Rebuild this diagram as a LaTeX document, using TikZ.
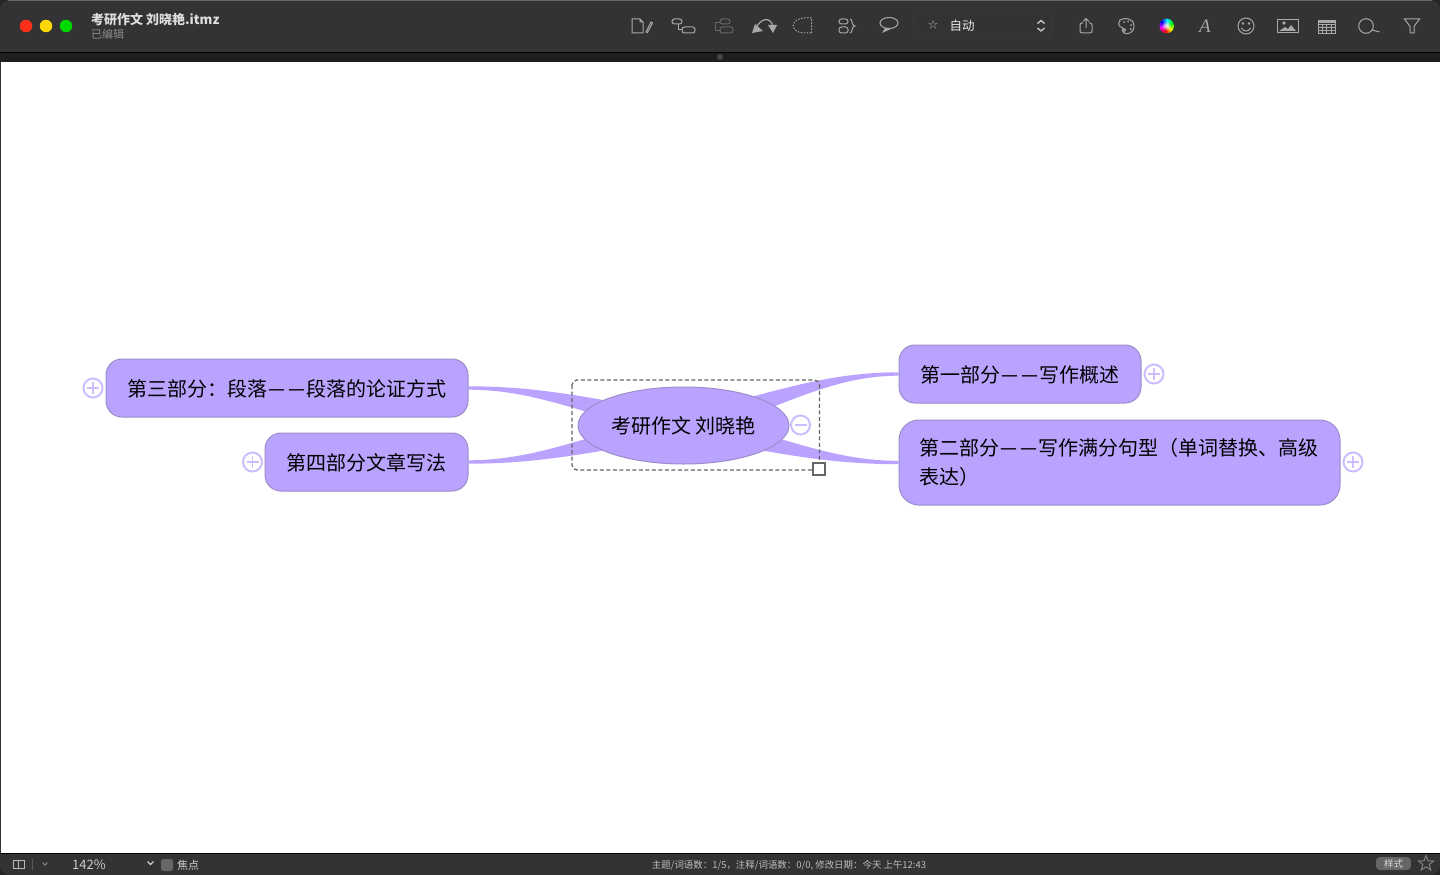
\documentclass[tikz,border=0pt]{standalone}
\usepackage{fontspec}
\setmainfont{Noto Sans CJK SC}
\newfontfamily\serifA{Liberation Serif}
\usetikzlibrary{shapes.geometric,calc,arrows.meta}
\definecolor{barC}{HTML}{333333}
\definecolor{stripC}{HTML}{1F1F1F}
\definecolor{iconC}{HTML}{A8A8A8}
\definecolor{dimC}{HTML}{666666}
\definecolor{topicC}{HTML}{B9A3FF}
\definecolor{edgeC}{HTML}{9C8CCB}
\definecolor{foldC}{HTML}{CDBDFF}
\tikzset{
  x=1pt,y=-1pt,
  topic/.style={draw=edgeC,line width=1pt,fill=topicC,rounded corners=16pt,inner sep=0pt,minimum height=58pt,font=\fontsize{20}{29}\selectfont,text=black},
  rootnode/.style={ellipse,draw=edgeC,line width=1pt,fill=topicC,inner sep=0pt,minimum width=211pt,minimum height=77pt,font=\fontsize{20}{26}\selectfont,text=black},
  fold/.style={circle,draw=foldC,line width=2pt,fill=white,inner sep=0pt,minimum size=19pt},
  icon/.style={draw=iconC,line width=1pt},
  dimicon/.style={draw=dimC,line width=1pt},
  light/.style={circle,inner sep=0pt,minimum size=12.5pt},
  chrome/.style={inner sep=0pt,anchor=west},
}
\newcommand\dd{\makebox[19.5pt][c]{\scalebox{0.95}[1.1]{—}}}
\newcommand\lift[1]{\raisebox{0pt}[\dimexpr\height+2pt\relax]{#1}}
% tapered branch: thin at the first point, wide at the second
\newcommand\branch[2]{%
  \fill[topicC] let \p1=(#1),\p2=(#2),\n1={\x2-\x1},\n2={\y2-\y1} in
    (\x1,\y1-1.7pt) .. controls (\x1+0.35*\n1,\y1-1.7pt) and (\x2-0.4*\n1,\y2-0.4*\n2-11pt) .. (\x2,\y2-11pt)
    -- (\x2,\y2+11pt) .. controls (\x2-0.4*\n1,\y2-0.4*\n2+11pt) and (\x1+0.35*\n1,\y1+1.7pt) .. (\x1,\y1+1.7pt) -- cycle;}
\newcommand\foldplus[1]{\draw[foldC,line width=1.5pt] ($(#1)+(-6,0)$) -- ($(#1)+(6,0)$) ($(#1)+(0,-6)$) -- ($(#1)+(0,6)$);}
\begin{document}
\begin{tikzpicture}
\useasboundingbox (0,0) rectangle (1440,875);
% window corners
\fill[black!85] (0,0) rectangle (1440,875);
% status bar
\fill[barC,rounded corners=10pt] (0,835) rectangle (1440,875);
% canvas
\fill[white] (0,62) rectangle (1440,853);
\fill[black!80] (0,62) rectangle (1,853);
% title bar
\fill[barC,rounded corners=10pt] (0,0) rectangle (1440,40);
\fill[barC] (0,12) rectangle (1440,52);
\draw[dimC,line width=.8pt] (8,.5) -- (1432,.5);
\fill[stripC] (0,52) rectangle (1440,62);
\draw[black,line width=1pt] (0,52.5) -- (1440,52.5);
\fill[dimC!70!black] (720,57) circle (3pt);
\node[light,fill=red!80!orange!90!white] (lr) at (26,26) {};
\node[light,fill=yellow!75!orange] (ly) at (46,26) {};
\node[light,fill=green!85!black] (lg) at (66,26) {};
\node[chrome,text=white!87!black,font=\fontsize{13}{15}\selectfont\bfseries] (title) at (91,19.5) {考研作文 刘晓艳.itmz};
\node[chrome,text=white!55!black,font=\fontsize{11}{13}\selectfont] (sub) at (91,34) {已编辑};
% toolbar left icons
\draw[icon] (632,19) -- (640,19) -- (643,22) -- (643,33) -- (632,33) -- cycle (640,19) -- (640,22) -- (643,22);
\draw[icon] (646,32) -- (651,22) -- (652.5,23) -- (647.5,32.5) -- cycle;
\draw[icon,rounded corners=2.5pt] (672,19) rectangle (682,24) (682,27) rectangle (695,33);
\draw[icon] (678,24) -- (678,30) -- (682,30);
\draw[dimicon,rounded corners=2.5pt] (720,19) rectangle (730,24) (720,27) rectangle (733,33);
\draw[dimicon] (720,23) -- (715,23) -- (715,31) -- (720,31);
\draw[icon,line width=1.2pt] (755,30) .. controls (760,18) and (770,16) .. (773,26);
\fill[iconC] (752,33) -- (763,31) -- (755,24) -- cycle (768,25) -- (777,25) -- (773,33) -- cycle;
\draw[icon,dash pattern=on 1.5pt off 1.5pt] (811.5,33) -- (811.5,18) -- (803,18) .. controls (796,19) and (793,23) .. (793,26) .. controls (794,30) and (798,33) .. (804,33) -- cycle;
\draw[icon,rounded corners=2.5pt] (839,19) rectangle (848,24) (839,27) rectangle (848,33);
\draw[icon] (850,19) .. controls (853,19) and (851,26) .. (855,26) .. controls (851,26) and (853,33) .. (850,33);
\draw[icon] (889,23) ellipse [x radius=9,y radius=5.5];
\fill[iconC] (882,33) -- (885,28) -- (892,28.5) -- cycle;
% style selector
\draw[draw=white!27!black,fill=barC,rounded corners=5pt] (913,12) rectangle (1052,39);
\node[inner sep=0pt,text=white!70!black,font=\fontsize{10}{12}\selectfont] (st) at (933,25) {☆};
\node[chrome,text=white!92!black,font=\fontsize{12.5}{14}\selectfont] (auto) at (949.5,25.5) {自动};
\draw[white!80!black,line width=1.3pt] (1037.5,23.5) -- (1041,20.5) -- (1044.5,23.5) (1037.5,28) -- (1041,31) -- (1044.5,28);
% toolbar right icons
\draw[icon,rounded corners=2pt] (1083,23) -- (1080,23) -- (1080,33) -- (1092,33) -- (1092,23) -- (1089,23);
\draw[icon] (1086,28) -- (1086,19) (1083,21.5) -- (1086,18.5) -- (1089,21.5);
\draw[icon] (1120,20) .. controls (1124,17) and (1134,18) .. (1134,26) .. controls (1134,33) and (1127,35) .. (1124,33) .. controls (1121,31) and (1125,28) .. (1121,27) .. controls (1118,26) and (1118,22) .. (1120,20);
\draw[icon] (1124,30) circle (1.6pt);
\fill[iconC] (1124,22) circle (1pt) (1128,21.5) circle (1pt) (1131,25) circle (1pt) (1130.5,29) circle (1pt);
\foreach \h in {0,15,...,345}{
  \pgfmathsetmacro\hh{\h/360}
  \definecolor{wheelC}{hsb}{\hh,1,1}
  \fill[wheelC] (1166.7,26) -- ++(\h-90:7.2pt) arc[start angle=\h-90,delta angle=-15.5,radius=7.2pt] -- cycle;
}
\fill[white,opacity=.35] (1166.7,26) circle (4.5pt);
\fill[white,opacity=.6] (1166.7,26) circle (2.5pt);
\node[inner sep=0pt,text=iconC,font=\serifA\itshape\fontsize{19}{20}\selectfont] (fa) at (1205,26) {A};
\draw[icon] (1246,26) circle (8pt);
\fill[iconC] (1243,23.5) circle (1.3pt) (1249,23.5) circle (1.3pt);
\draw[icon] (1241.5,28) .. controls (1243,32) and (1249,32) .. (1250.5,28);
\draw[icon] (1277,19.5) rectangle (1298,33);
\fill[iconC] (1284,23) circle (1.8pt) (1279,31) -- (1285,27) -- (1288,29) -- (1291,25) -- (1296,31) -- cycle;
\draw[icon,line width=.9pt] (1318.5,20) rectangle (1335,33.5) (1318.5,24) -- (1335,24) (1318.5,27) -- (1335,27) (1318.5,30) -- (1335,30);
\fill[iconC] (1318.5,20) rectangle (1335,23.5);
\draw[icon,line width=.9pt] (1322.5,24) -- (1322.5,33.5) (1326.7,24) -- (1326.7,33.5) (1331,24) -- (1331,33.5);
\draw[icon] (1366,26) circle (7.3pt) (1372,30) -- (1379.5,32);
\draw[icon] (1404.5,19) -- (1419.5,19) -- (1414,26.5) -- (1414,33) -- (1410,33) -- (1410,26.5) -- cycle;
% status bar content
\draw[black,line width=1.2pt] (0,853.5) -- (1440,853.5);
\fill[white!20!black,rounded corners=2pt] (6,858) rectangle (55,871);
\draw[white!72!black,line width=.9pt] (13,860) rectangle (24,868) (18,860) -- (18,868);
\draw[white!35!black] (32,859) -- (32,870);
\draw[white!55!black,line width=1pt] (42.5,862.5) -- (45,865) -- (47.5,862.5);
\node[chrome,text=white!80!black,font=\fontsize{13}{15}\selectfont] (zoomlab) at (72,864.5) {142\%};
\draw[white!80!black,line width=1.1pt] (147.5,861.5) -- (150.5,864.5) -- (153.5,861.5);
\fill[white!40!black,rounded corners=2.5pt] (161,859) rectangle (173,871);
\node[chrome,text=white!80!black,font=\fontsize{11}{13}\selectfont] (focus) at (177,865) {焦点};
\node[inner sep=0pt,text=white!75!black,font=\fontsize{9.45}{11}\selectfont] (status) at (789,865) {主题/词语数：1/5，注释/词语数：0/0, 修改日期：今天 上午12:43};
\fill[white!40!black,rounded corners=4pt] (1376,857) rectangle (1411,870);
\node[inner sep=0pt,text=white!85!black,font=\fontsize{9.5}{11}\selectfont] (stylebtn) at (1393.5,863.5) {样式};
\draw[white!50!black,line width=1pt] (1426,855.5) -- (1428,860.8) -- (1433.5,861) -- (1429.2,864.5) -- (1430.8,870) -- (1426,866.8) -- (1421.2,870) -- (1422.8,864.5) -- (1418.5,861) -- (1424,860.8) -- cycle;
% mind map nodes
\node[topic,minimum width=362pt] (n3) at (287,388) {\lift{第三部分：段落\dd\dd 段落的论证方式}};
\node[topic,minimum width=203pt] (n4) at (366.5,462) {\lift{第四部分文章写法}};
\node[topic,minimum width=242pt] (n1) at (1020,374) {\lift{第一部分\dd\dd 写作概述}};
\node[topic,rounded corners=20pt,text width=400pt,align=left,inner xsep=20.5pt,minimum height=85pt] (n2) at (1119.5,462.5) {第二部分\dd\dd 写作满分句型（单词替换、高级\\表达）};
\coordinate (hub) at (683.5,425.5);
\branch{n3.east}{hub}
\branch{n4.east}{hub}
\branch{n1.west}{hub}
\branch{n2.west}{hub}
\node[rootnode] (root) at (hub) {考研作文\hspace{.5pt} 刘晓艳};
% selection box
\draw[white!40!black,line width=1.3pt,dash pattern=on 4pt off 2.5pt,rounded corners=5pt] (572,380) rectangle (819.5,470);
\node[draw=white!40!black,line width=1.2pt,fill=white,inner sep=0pt,minimum size=12pt] (handle) at (819,469) {};
% fold buttons
\node[fold] (f3) at (93,388) {};
\node[fold] (f4) at (252.5,462) {};
\node[fold] (f1) at (1154,374) {};
\node[fold] (f2) at (1353,462) {};
\node[fold] (f0) at (800.5,425) {};
\foldplus{f3}\foldplus{f4}\foldplus{f1}\foldplus{f2}
\draw[foldC,line width=1.5pt] ($(f0)+(-6,0)$) -- ($(f0)+(6,0)$);
\end{tikzpicture}
\end{document}
